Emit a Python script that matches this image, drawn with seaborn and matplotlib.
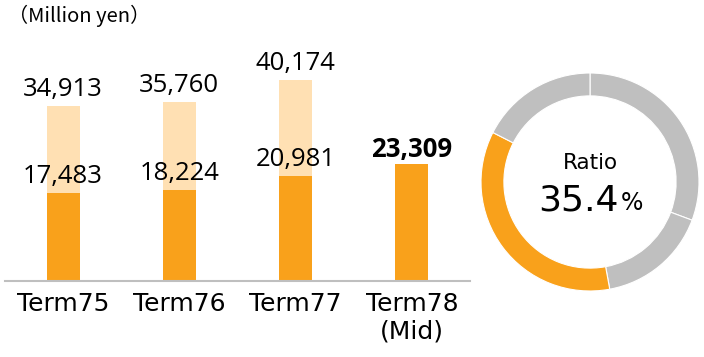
import seaborn as sns
import matplotlib.pyplot as plt
import pandas as pd

# data
terms = ["Term75", "Term76", "Term77", "Term78\n(Mid)"]
full_year = [34913, 35760, 40174]          # light bars, Term78 has no full-year yet
half_year = [17483, 18224, 20981, 23309]   # dark bars
ratio = 35.4
donut_parts = [30.7, 16.4, ratio, 17.5]
donut_colors = ["#BFBFBF", "#BFBFBF", "#F9A11B", "#BFBFBF"]

light = "#FFE0B3"
dark = "#F9A11B"

sns.set_style("white")
plt.rcParams["font.family"] = ["DejaVu Sans", "Noto Sans CJK JP"]
plt.rcParams["text.color"] = "black"
plt.rcParams["xtick.color"] = "black"

fig = plt.figure(figsize=(7.04, 3.57), dpi=100)
W, H = 704, 357

# bar chart axes: x from 5px to 470px, baseline at y=281px
ax = fig.add_axes([5 / W, (H - 281) / H, 465 / W, 230 / H])
df_full = pd.DataFrame({"term": terms[:3], "value": full_year})
df_half = pd.DataFrame({"term": terms, "value": half_year})
sns.barplot(data=df_full, x="term", y="value", order=terms, color=light,
            width=0.285, saturation=1, linewidth=0, ax=ax)
sns.barplot(data=df_half, x="term", y="value", order=terms, color=dark,
            width=0.285, saturation=1, linewidth=0, ax=ax)

num_font = dict(family=["Open Sans", "DejaVu Sans"], fontsize=18.5)
ax.bar_label(ax.containers[0], labels=[f"{v:,}" for v in full_year],
             padding=3, **num_font)
ax.bar_label(ax.containers[1], labels=[f"{v:,}" for v in half_year[:3]] + [""],
             padding=3, **num_font)
last = ax.containers[1][3]
ax.annotate(f"{half_year[3]:,}", (last.get_x() + last.get_width() / 2, last.get_height()),
            xytext=(0, 1), textcoords="offset points", ha="center", va="bottom",
            fontweight="bold", **num_font)

ax.set_xlim(-0.5, 3.5)
ax.set_ylim(0, 45900)
ax.set_xlabel("")
ax.set_ylabel("")
ax.set_yticks([])
ax.tick_params(axis="x", length=0, pad=8, labelsize=18)
for s in ["top", "right", "left"]:
    ax.spines[s].set_visible(False)
ax.spines["bottom"].set_color("#BFBFBF")
ax.spines["bottom"].set_linewidth(1.5)

fig.text(8 / W, 1 - 16 / H, "（Million yen）", fontsize=14.5, va="center", ha="left",
         family=["Noto Sans CJK JP", "DejaVu Sans"])

# donut
R = 109
cx, cy = 590, 182
dax = fig.add_axes([(cx - R) / W, (H - cy - R) / H, 2 * R / W, 2 * R / H])
dax.pie(donut_parts, colors=donut_colors, startangle=90, counterclock=False,
        radius=1, wedgeprops=dict(width=0.21, edgecolor="white", linewidth=0.8))
dax.set_xlim(-1, 1)
dax.set_ylim(-1, 1)
dax.set_aspect("equal")
dax.axis("off")
dax.text(0, 0.174, "Ratio", ha="center", va="center", fontsize=15.5)
dax.text(0.266, -0.257, f"{ratio}", ha="right", va="baseline", fontsize=26)
dax.text(0.28, -0.257, "%", ha="left", va="baseline", fontsize=17)

fig.savefig("out.png", dpi=100)
